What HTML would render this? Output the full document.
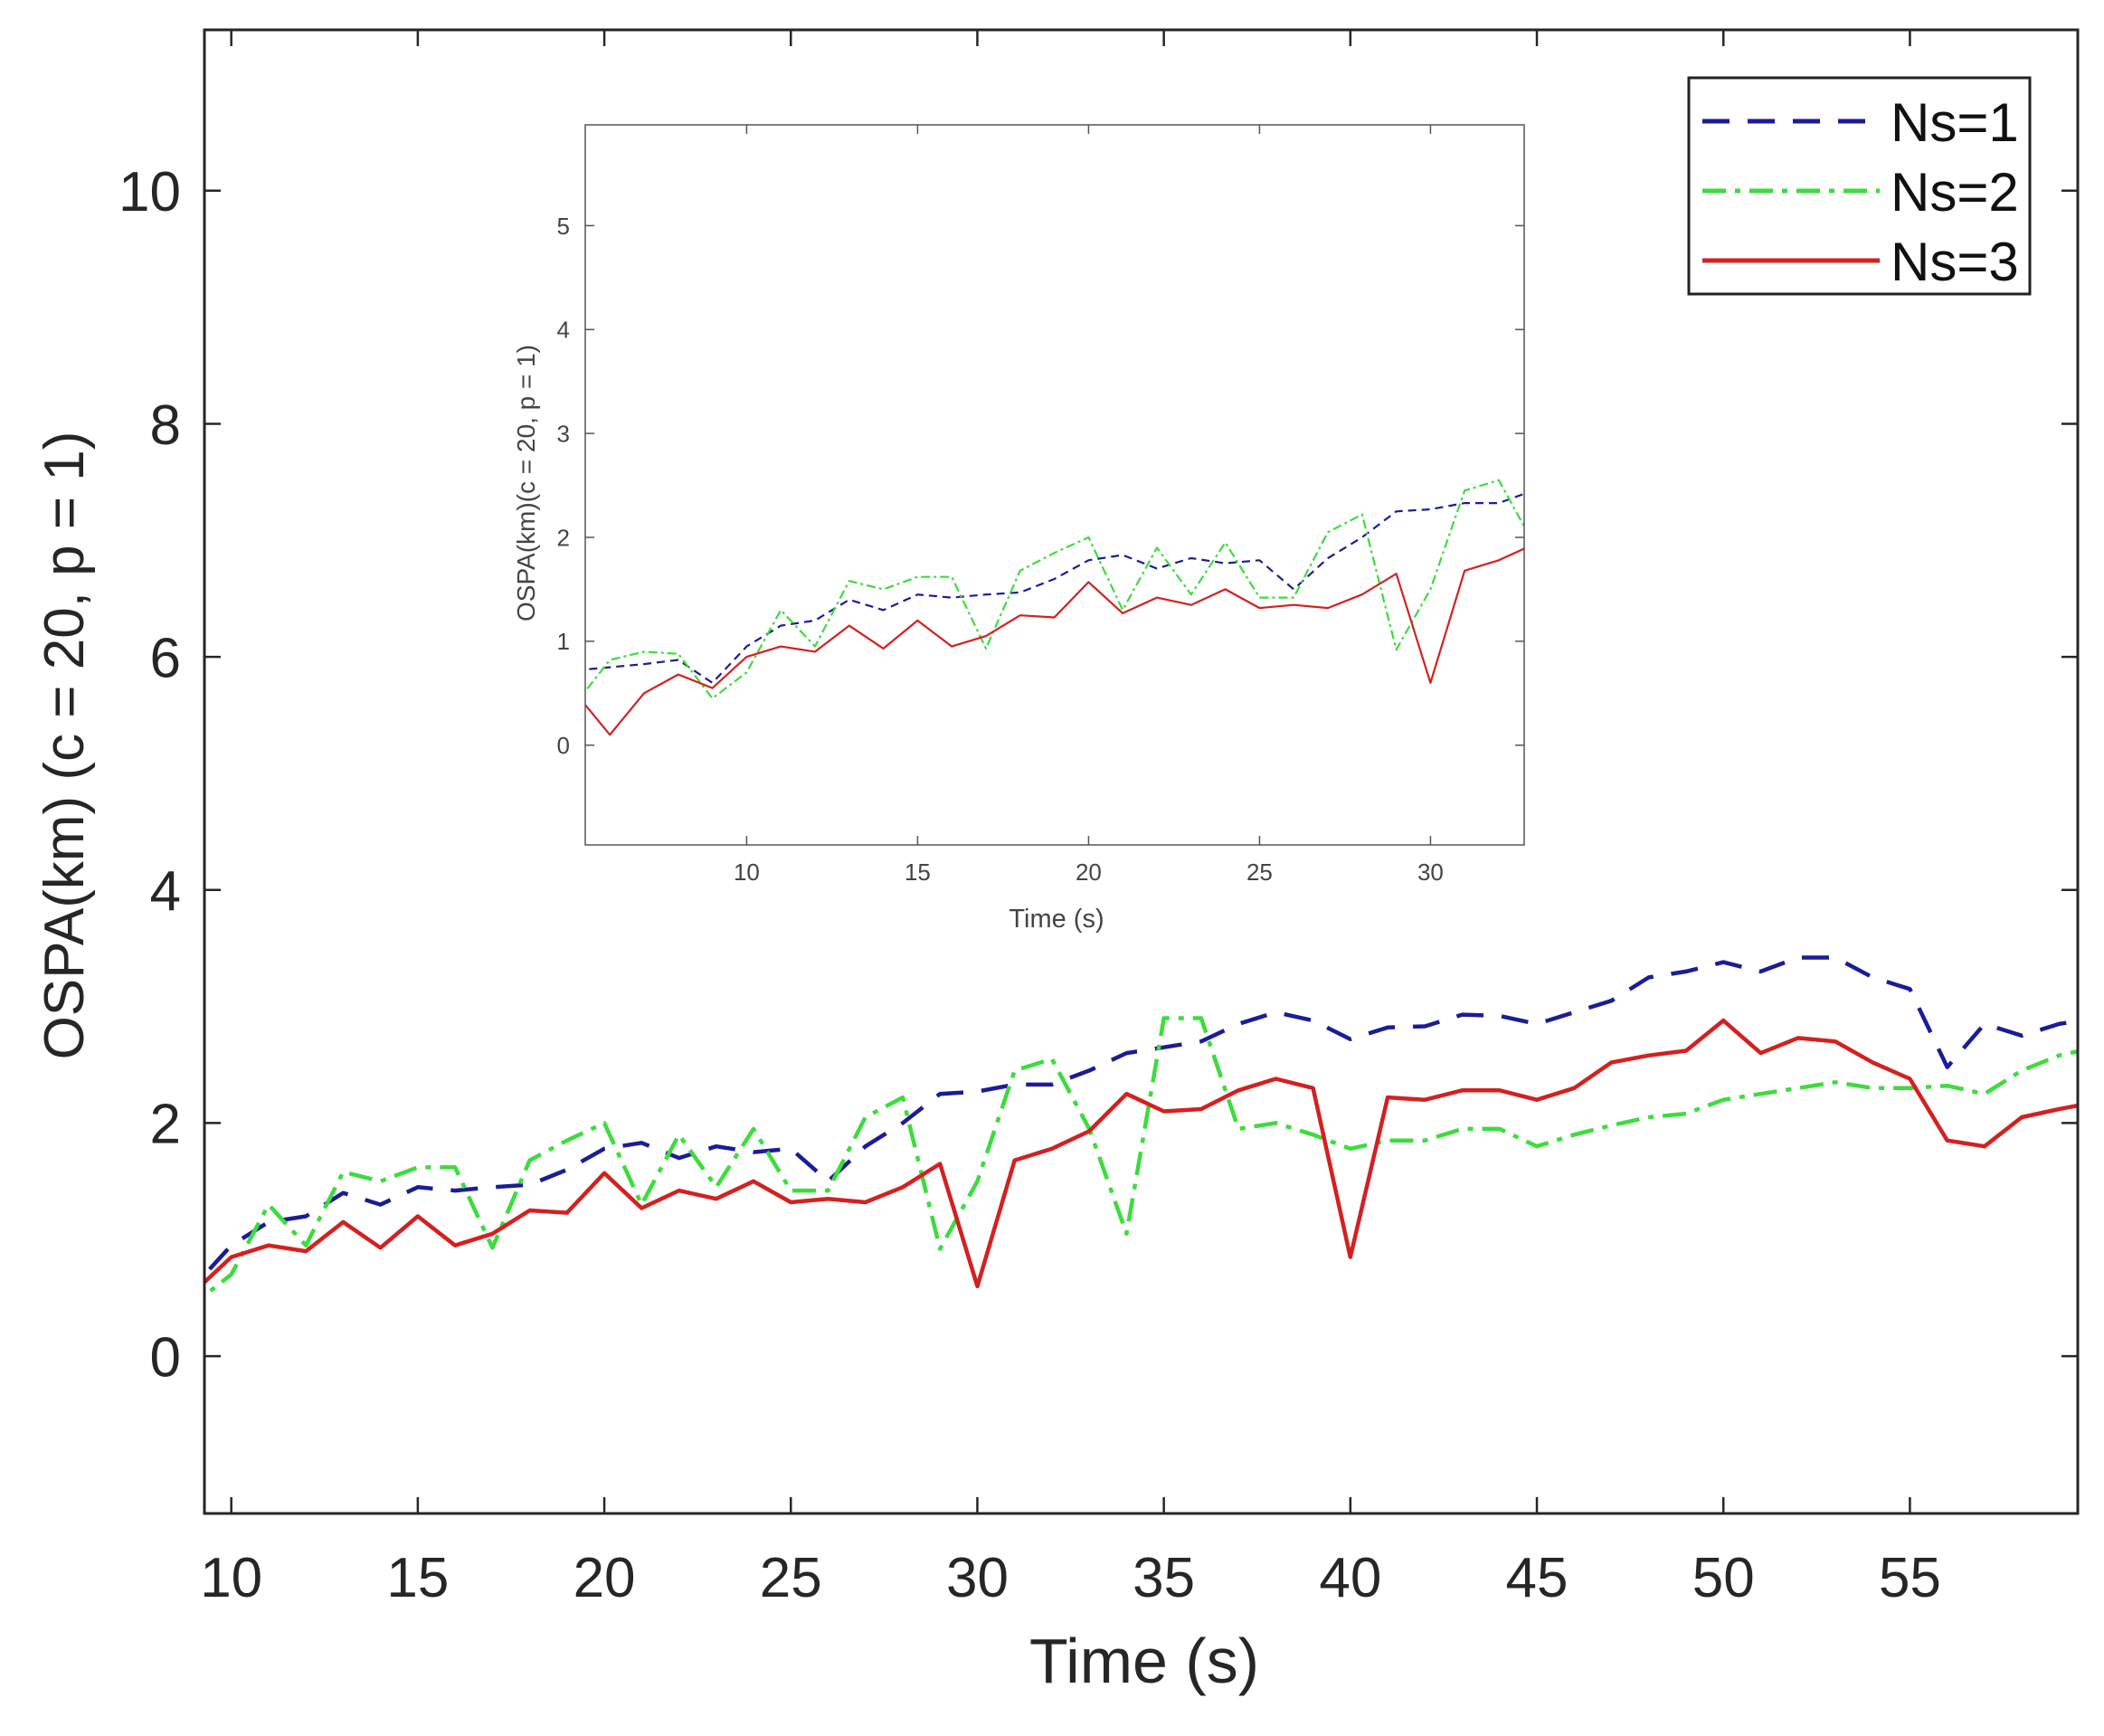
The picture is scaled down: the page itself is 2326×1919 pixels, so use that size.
<!DOCTYPE html>
<html><head><meta charset="utf-8"><style>
body{margin:0;background:#fff}
svg{display:block;font-family:"Liberation Sans",Arial,sans-serif}
</style></head><body>
<svg id="chart" width="2326" height="1919" viewBox="0 0 2326 1919" xmlns="http://www.w3.org/2000/svg">
<defs>
<clipPath id="mainClip"><rect x="226" y="33" width="2072" height="1640"/></clipPath>
<clipPath id="insetClip"><rect x="647" y="138" width="1038" height="796"/></clipPath>
</defs>
<rect width="2326" height="1919" fill="#fff"/>
<g id="main"></g>
<g id="inset"></g>
<g id="legend"></g>
</svg>
<script>
const times = [5,6,7,8,9,10,11,12,13,14,15,16,17,18,19,20,21,22,23,24,25,26,27,28,29,30,31,32,33,34,35,36,37,38,39,40,41,42,43,44,45,46,47,48,49,50,51,52,53,54,55,56,57,58,59,60];
const ns1 = [0.72,0.75,0.78,0.82,0.6,0.95,1.15,1.2,1.4,1.3,1.45,1.42,1.45,1.47,1.6,1.78,1.83,1.7,1.8,1.75,1.78,1.5,1.8,2.0,2.25,2.27,2.33,2.33,2.45,2.6,2.65,2.7,2.85,2.95,2.88,2.72,2.82,2.83,2.93,2.92,2.85,2.95,3.05,3.25,3.3,3.38,3.3,3.42,3.42,3.25,3.15,2.48,2.85,2.75,2.85,2.9];
const ns2 = [0.4,0.82,0.9,0.88,0.45,0.7,1.3,0.95,1.58,1.5,1.62,1.62,0.93,1.68,1.85,2.0,1.3,1.9,1.45,1.95,1.42,1.42,2.05,2.22,0.92,1.5,2.45,2.55,1.95,1.05,2.9,2.9,1.95,2.0,1.9,1.78,1.85,1.85,1.95,1.95,1.8,1.9,1.98,2.05,2.08,2.2,2.25,2.3,2.35,2.3,2.3,2.32,2.25,2.45,2.58,2.65];
const ns3 = [0.5,0.1,0.5,0.68,0.55,0.85,0.95,0.9,1.15,0.93,1.2,0.95,1.05,1.25,1.23,1.57,1.27,1.42,1.35,1.5,1.32,1.35,1.32,1.45,1.65,0.6,1.68,1.78,1.93,2.25,2.1,2.12,2.28,2.38,2.3,0.85,2.22,2.2,2.28,2.28,2.2,2.3,2.52,2.58,2.62,2.88,2.6,2.73,2.7,2.52,2.38,1.85,1.8,2.05,2.12,2.18];
const mainXTicks = [10,15,20,25,30,35,40,45,50,55];
const mainYTicks = [0,2,4,6,8,10];
const insetXTicks = [10,15,20,25,30];
const insetYTicks = [0,1,2,3,4,5];
const seriesNames = ["Ns=1","Ns=2","Ns=3"];

const NS="http://www.w3.org/2000/svg";
function mk(tag,attrs,parent){const e=document.createElementNS(NS,tag);for(const k in attrs)e.setAttribute(k,attrs[k]);parent.appendChild(e);return e;}

const styles=[
 {color:"#1c1c96",dash:[30,20],dashI:[9,6]},
 {color:"#3cdc3c",dash:[26,10,6,10],dashI:[10,4,3,4]},
 {color:"#d42020",dash:null,dashI:null}
];
const allSeries=[ns1,ns2,ns3];

function drawAxes(g,box,xr,yr,xt,yt,opt){
  const sx=v=>box.l+(v-xr[0])/(xr[1]-xr[0])*(box.r-box.l);
  const sy=v=>box.b-(v-yr[0])/(yr[1]-yr[0])*(box.b-box.t);
  const sg=mk("g",{"clip-path":`url(#${opt.clip})`},g);
  allSeries.forEach((s,i)=>{
    const d=s.map((v,j)=>(j?"L":"M")+sx(times[j]).toFixed(1)+","+sy(v).toFixed(1)).join("");
    const p=mk("path",{d:d,fill:"none",stroke:styles[i].color,"stroke-width":opt.lw,"stroke-linejoin":"round"},sg);
    const da=opt.inset?styles[i].dashI:styles[i].dash;
    if(da)p.setAttribute("stroke-dasharray",da.join(" "));
    
    
  });
  const fr=mk("rect",{x:box.l,y:box.t,width:box.r-box.l,height:box.b-box.t,fill:"none",stroke:opt.axisColor,"stroke-width":opt.aw},g);
  
  
  xt.forEach(v=>{
    const x=sx(v);
    mk("line",{x1:x,y1:box.b,x2:x,y2:box.b-opt.tl,stroke:opt.axisColor,"stroke-width":opt.tw},g);
    mk("line",{x1:x,y1:box.t,x2:x,y2:box.t+opt.tl,stroke:opt.axisColor,"stroke-width":opt.tw},g);
    const t=mk("text",{x:x,y:box.b+opt.xlo,"font-size":opt.fs,"text-anchor":"middle",fill:opt.textColor},g);
    t.textContent=v;
    
    
  });
  yt.forEach(v=>{
    const y=sy(v);
    mk("line",{x1:box.l,y1:y,x2:box.l+opt.tl,y2:y,stroke:opt.axisColor,"stroke-width":opt.tw},g);
    mk("line",{x1:box.r,y1:y,x2:box.r-opt.tl,y2:y,stroke:opt.axisColor,"stroke-width":opt.tw},g);
    const t=mk("text",{x:box.l-opt.ylo,y:y+opt.fs*0.36,"font-size":opt.fs,"text-anchor":"end",fill:opt.textColor},g);
    t.textContent=v;
    
    
  });
}

const mainG=document.getElementById("main");
drawAxes(mainG,{l:226,r:2297,t:33,b:1673},[9.28,59.5],[-1.35,11.38],mainXTicks,mainYTicks,
 {clip:"mainClip",lw:4.5,aw:3,tw:2.5,tl:18,fs:62,xlo:92,ylo:26,axisColor:"#262626",textColor:"#262626",inset:false});
let t=mk("text",{x:1265,y:1860,"font-size":70,"text-anchor":"middle",fill:"#262626"},mainG);
t.textContent="Time (s)";

t=mk("text",{x:0,y:0,"font-size":62,"text-anchor":"middle",fill:"#262626",transform:"translate(92,824) rotate(-90)"},mainG);
t.textContent="OSPA(km) (c = 20, p = 1)";


const insetG=document.getElementById("inset");
mk("rect",{x:647,y:138,width:1038,height:796,fill:"#fff"},insetG);
drawAxes(insetG,{l:647,r:1685,t:138,b:934},[5.28,32.74],[-0.96,5.97],insetXTicks,insetYTicks,
 {clip:"insetClip",lw:2.2,aw:1.5,tw:1.5,tl:10,fs:26,xlo:39,ylo:17,axisColor:"#555",textColor:"#444",inset:true});
t=mk("text",{x:1168,y:1025,"font-size":29,"text-anchor":"middle",fill:"#444"},insetG);
t.textContent="Time (s)";

t=mk("text",{x:0,y:0,"font-size":28,"text-anchor":"middle",fill:"#444",transform:"translate(591,534) rotate(-90)"},insetG);
t.textContent="OSPA(km)(c = 20, p = 1)";


const lg=document.getElementById("legend");
mk("rect",{x:1867,y:86,width:377,height:239,fill:"#fff",stroke:"#222","stroke-width":3},lg);
const rowsY=[134,211,288];
seriesNames.forEach((n,i)=>{
  const l=mk("line",{x1:1882,y1:rowsY[i],x2:2078,y2:rowsY[i],stroke:styles[i].color,"stroke-width":5},lg);
  if(styles[i].dash)l.setAttribute("stroke-dasharray",styles[i].dash.join(" "));
  
  const tx=mk("text",{x:2090,y:rowsY[i]+22,"font-size":60,fill:"#111"},lg);
  tx.textContent=n;
  
});
</script>
</body></html>
